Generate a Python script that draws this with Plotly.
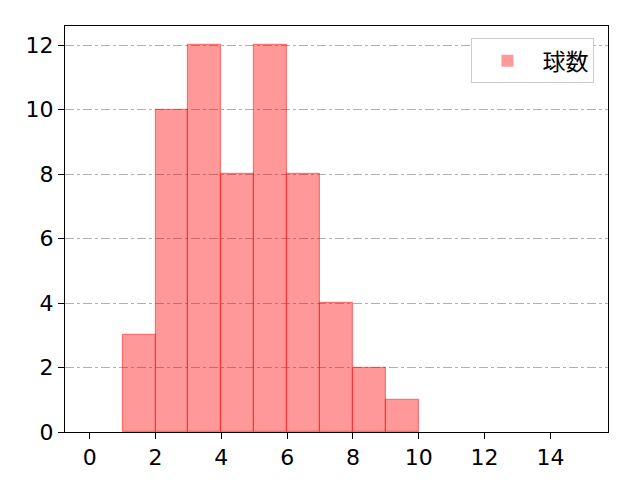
import plotly.graph_objects as go

# histogram of pitch counts, bins of width 1 from 0 to 15
bin_edges = list(range(0, 16))
counts = [0, 3, 10, 12, 8, 12, 8, 4, 2, 1, 0, 0, 0, 0, 0]
series_name = "球数"

centers = [(bin_edges[i] + bin_edges[i + 1]) / 2 for i in range(len(counts))]
# empty bins get no outline so the axis stays black there
edge_widths = [1.2 if c > 0 else 0 for c in counts]

fig = go.Figure()

fig.add_trace(
    go.Bar(
        x=centers,
        y=counts,
        width=1,
        name=series_name,
        marker=dict(
            color="rgba(255,0,0,0.4)",
            line=dict(color="rgba(255,0,0,0.45)", width=edge_widths),
        ),
    )
)

# the page adds ~8px body margin, so margins are shifted to compensate
fig.update_layout(
    width=640,
    height=480,
    margin=dict(l=57, r=40, t=18, b=56),
    plot_bgcolor="white",
    paper_bgcolor="white",
    font=dict(family="DejaVu Sans, Noto Sans CJK JP", size=22, color="black"),
    bargap=0,
    showlegend=True,
    legend=dict(
        x=0.975,
        y=0.97,
        xanchor="right",
        yanchor="top",
        bgcolor="white",
        bordercolor="#cccccc",
        borderwidth=1,
        font=dict(family="Noto Sans CJK JP", size=23),
        itemwidth=60,
        entrywidth=135,
        tracegroupgap=0,
    ),
)

fig.update_xaxes(
    range=[-0.75, 15.75],
    tickvals=[0, 2, 4, 6, 8, 10, 12, 14],
    showgrid=False,
    zeroline=False,
    showline=True,
    linecolor="black",
    linewidth=1,
    mirror=True,
    ticks="outside",
    ticklen=6,
    tickcolor="black",
)

fig.update_yaxes(
    range=[0, 12.6],
    tickvals=[0, 2, 4, 6, 8, 10, 12],
    showgrid=True,
    gridcolor="#b0b0b0",
    griddash="dashdot",
    gridwidth=0.8,
    zeroline=False,
    showline=True,
    linecolor="black",
    linewidth=1,
    mirror=True,
    ticks="outside",
    ticklen=6,
    tickcolor="black",
)

fig.write_html("out.html")
